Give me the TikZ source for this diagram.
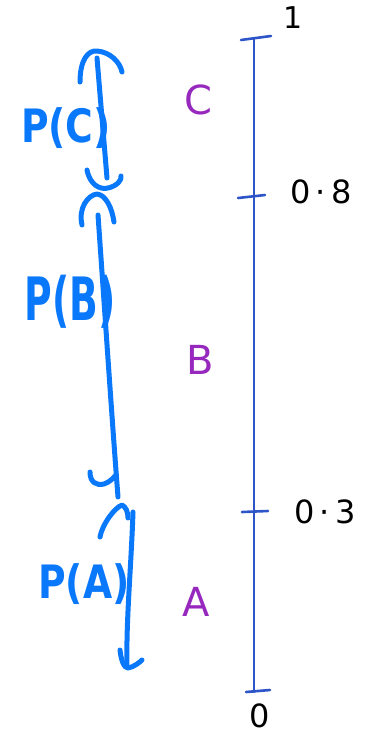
\documentclass[tikz,border=0pt]{standalone}
\usepackage{fontspec}
\setmainfont{DejaVu Sans}
\begin{document}
\begin{tikzpicture}[x=1pt,y=-1pt,
  axis/.style={draw=axisblue,line width=2.2pt,line cap=round},
  tickmark/.style={draw=axisblue,line width=2.6pt,line cap=round},
  hand/.style={draw=handblue,line width=5pt,line cap=round,line join=round},
  numlbl/.style={font=\fontsize{32}{34}\selectfont,text=black,inner sep=0pt},
  letterlbl/.style={font=\fontsize{40}{42}\selectfont,text=letterpurple,inner sep=0pt},
  plbl/.style={font=\fontsize{46}{48}\selectfont\bfseries,text=handblue,inner sep=0pt,xscale=0.82}]
\definecolor{axisblue}{RGB}{45,85,200}
\definecolor{handblue}{RGB}{10,120,250}
\definecolor{letterpurple}{RGB}{150,40,190}
\useasboundingbox (0,0) rectangle (370,736);
% axis
\coordinate (top) at (254,38);
\coordinate (bot) at (254,692);
\draw[axis] (top) -- (bot);
\coordinate (t1a) at (241,40); \coordinate (t1b) at (271,36);
\coordinate (t8a) at (238,198); \coordinate (t8b) at (265,195);
\coordinate (t3a) at (242,512); \coordinate (t3b) at (268,511);
\coordinate (t0a) at (246,692); \coordinate (t0b) at (270,690);
\draw[tickmark] (t1a) -- (t1b);
\draw[tickmark] (t8a) -- (t8b);
\draw[tickmark] (t3a) -- (t3b);
\draw[tickmark] (t0a) -- (t0b);
\node[numlbl,font=\fontsize{30}{32}\selectfont] (one) at (293,18) {1};
\node[numlbl] (eight) at (321,192) {0\,·\,8};
\node[numlbl] (three) at (325,512) {0\,·\,3};
\node[numlbl] (zero) at (260,716) {0};
% region letters
\node[letterlbl] (C) at (198,100) {C};
\node[letterlbl] (B) at (200,360) {B};
\node[letterlbl] (A) at (196,602) {A};
% P(C) arrow
\coordinate (c1) at (97,58); \coordinate (c2) at (107,178);
\draw[hand] (c1) -- (c2);
\draw[hand] (80,82) .. controls (80,60) and (88,50) .. (97,51) .. controls (110,52) and (120,62) .. (122,72);
\draw[hand] (87,170) .. controls (90,185) and (100,190) .. (108,188) .. controls (117,186) and (122,180) .. (121,176);
% P(B) arrow
\coordinate (b1) at (98,215); \coordinate (b2) at (118,497);
\draw[hand] (b1) .. controls (104,300) and (112,420) .. (b2);
\draw[hand] (82,225) .. controls (78,208) and (88,195) .. (97,194) .. controls (106,195) and (112,208) .. (114,222);
\draw[hand] (90,472) .. controls (90,482) and (96,486) .. (104,484) .. controls (110,482) and (113,478) .. (115,476);
% P(A) arrow
\coordinate (a1) at (133,512); \coordinate (a2) at (127,667);
\draw[hand] (a1) .. controls (131,570) and (126,620) .. (a2);
\draw[hand] (100,537) .. controls (102,525) and (114,508) .. (122,505) .. controls (126,507) and (128,512) .. (128,518);
\draw[hand] (120,650) .. controls (121,660) and (124,668) .. (128,668) .. controls (134,667) and (140,662) .. (142,660);
% labels
\node[plbl] (pc) at (66,128) {P(C)};
\node[plbl,yscale=1.3] (pb) at (70,302) {P(B)};
\node[plbl] (pa) at (84,584) {P(A)};
\end{tikzpicture}
\end{document}
